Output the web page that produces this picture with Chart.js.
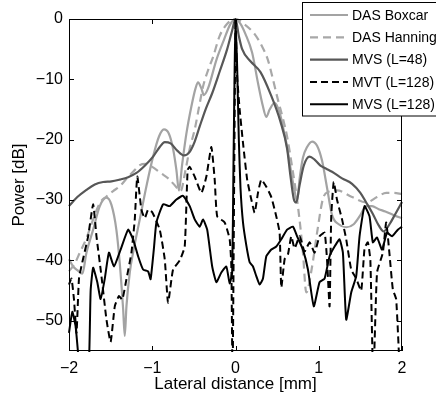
<!DOCTYPE html>
<html><head><meta charset="utf-8">
<script src="https://cdn.jsdelivr.net/npm/chart.js@4.4.0/dist/chart.umd.min.js"></script>
<style>html,body{margin:0;padding:0;background:#fff;}canvas{display:block}</style>
</head><body>
<canvas id="c" width="436" height="398"></canvas>
<script>
// ---------- data ----------
const seriesNames = ['DAS Boxcar', 'DAS Hanning', 'MVS (L=48)', 'MVT (L=128)', 'MVS (L=128)'];
const xTicks = [-2, -1, 0, 1, 2];
const yTicks = [0, -10, -20, -30, -40, -50];
const xTitle = 'Lateral distance [mm]';
const yTitle = 'Power [dB]';

const boxcarX = [-2.0,-1.95,-1.9,-1.84,-1.79,-1.71,-1.63,-1.55,-1.49,-1.43,-1.39,-1.35,-1.33,-1.31,-1.27,-1.23,-1.15,-1.07,-0.99,-0.92,-0.86,-0.80,-0.75,-0.71,-0.68,-0.64,-0.59,-0.53,-0.48,-0.45,-0.41,-0.38,-0.33,-0.23,-0.14,-0.06,0,0.06,0.12,0.20,0.27,0.33,0.37,0.41,0.47,0.53,0.58,0.62,0.67,0.71,0.74,0.77,0.81,0.86,0.92,0.98,1.04,1.10,1.16,1.24,1.33,1.42,1.50,1.57,1.64,1.72,1.80,1.90,2.00];
const boxcarY = [-39.8,-41.0,-41.6,-42.2,-38.7,-34.9,-31.0,-29.6,-30.8,-35.0,-40.5,-48.0,-52.5,-47.6,-42.0,-38.7,-33.2,-27.7,-22.8,-19.5,-18.3,-19.0,-21.5,-25.0,-28.4,-24.0,-19.0,-14.5,-11.5,-10.5,-11.5,-12.6,-11.5,-6.8,-3.5,-0.8,0,-0.8,-2.5,-5.6,-10.6,-14.5,-16.2,-15.0,-13.9,-15.5,-18.5,-21.2,-25.5,-28.5,-30.2,-26.5,-23.0,-21.2,-20.3,-21.0,-23.5,-28.0,-32.5,-34.0,-34.5,-34.0,-32.5,-31.0,-31.0,-31.5,-31.9,-32.5,-33.0];

const hanningX = [-2.0,-1.93,-1.87,-1.79,-1.71,-1.63,-1.55,-1.47,-1.39,-1.30,-1.23,-1.15,-1.08,-1.00,-0.90,-0.80,-0.72,-0.66,-0.60,-0.55,-0.49,-0.43,-0.39,-0.33,-0.27,-0.19,-0.10,0,0.10,0.23,0.31,0.39,0.45,0.51,0.57,0.62,0.68,0.75,0.81,0.85,0.92,0.98,1.05,1.12,1.22,1.40,1.57,1.70,1.81,1.90,2.00];
const hanningY = [-41.8,-40.5,-38.7,-36.3,-33.2,-30.5,-29.4,-28.5,-27.7,-26.3,-25.3,-24.2,-24.0,-24.5,-25.5,-26.5,-27.7,-28.5,-25.0,-21.5,-18.3,-14.0,-11.2,-8.5,-6.3,-2.8,-0.8,0,-0.8,-2.5,-4.3,-6.8,-10.0,-13.4,-16.5,-19.5,-24.5,-31.0,-38.7,-45.3,-41.0,-35.4,-29.8,-28.6,-28.4,-29.5,-30.4,-29.5,-28.8,-28.8,-29.0];

const mvs48X = [-2.0,-1.9,-1.79,-1.69,-1.59,-1.49,-1.39,-1.29,-1.19,-1.09,-0.99,-0.91,-0.85,-0.78,-0.70,-0.62,-0.55,-0.49,-0.43,-0.36,-0.28,-0.19,-0.10,-0.04,0,0.04,0.08,0.18,0.30,0.42,0.54,0.62,0.66,0.70,0.73,0.77,0.82,0.89,0.95,1.02,1.09,1.16,1.28,1.40,1.50,1.57,1.65,1.72,1.78,1.85,1.92,2.00];
const mvs48Y = [-31.0,-29.5,-28.3,-27.4,-27.0,-26.9,-26.6,-26.2,-25.5,-24.3,-22.8,-21.2,-20.4,-20.6,-21.8,-22.6,-22.0,-20.3,-17.8,-15.0,-12.3,-8.7,-5.0,-1.9,0,-2.8,-5.0,-7.0,-8.8,-12.4,-17.0,-21.5,-26.0,-29.8,-30.4,-27.5,-24.3,-22.8,-23.3,-24.3,-24.8,-25.3,-26.4,-27.3,-28.8,-30.4,-32.3,-34.2,-35.2,-34.0,-32.3,-30.3];

const mvtX = [-2.0,-1.97,-1.94,-1.91,-1.88,-1.84,-1.77,-1.71,-1.67,-1.61,-1.55,-1.50,-1.45,-1.40,-1.36,-1.31,-1.25,-1.21,-1.18,-1.13,-1.09,-1.05,-1.00,-0.91,-0.85,-0.81,-0.75,-0.67,-0.61,-0.575,-0.55,-0.49,-0.41,-0.35,-0.29,-0.25,-0.22,-0.13,-0.07,-0.05,-0.035,0,0.02,0.05,0.09,0.14,0.19,0.23,0.27,0.31,0.37,0.43,0.49,0.53,0.55,0.59,0.63,0.67,0.71,0.77,0.83,0.89,0.95,1.01,1.07,1.10,1.13,1.15,1.18,1.22,1.28,1.33,1.39,1.45,1.51,1.55,1.59,1.62,1.655,1.70,1.77,1.81,1.85,1.89,1.93,1.98,2.00];
const mvtY = [-44.0,-43.0,-46.5,-52.0,-43.0,-40.3,-36.0,-30.7,-36.0,-42.6,-49.8,-53.5,-47.6,-45.9,-46.5,-43.1,-38.7,-33.2,-26.1,-31.6,-33.0,-31.6,-32.0,-34.9,-39.8,-47.0,-41.5,-40.0,-37.7,-25.0,-24.5,-26.1,-28.8,-26.1,-21.2,-26.6,-32.7,-33.7,-36.5,-41.0,-60,0,-9.6,-15.0,-20.5,-26.6,-29.9,-32.1,-28.8,-26.6,-27.8,-29.5,-32.7,-35.4,-44.5,-39.8,-39.0,-36.0,-38.0,-36.0,-38.5,-37.0,-38.7,-36.0,-35.4,-40.0,-47.6,-32.7,-27.0,-30.0,-33.2,-36.5,-41.5,-43.0,-45.0,-38.0,-37.0,-40.0,-60,-42.0,-38.7,-33.7,-39.0,-44.8,-46.4,-60,-60];

const mvs128X = [-2.0,-1.96,-1.92,-1.89,-1.86,-1.77,-1.74,-1.71,-1.66,-1.62,-1.57,-1.52,-1.46,-1.38,-1.29,-1.23,-1.17,-1.11,-1.05,-1.02,-0.98,-0.95,-0.87,-0.79,-0.71,-0.63,-0.55,-0.49,-0.43,-0.39,-0.34,-0.28,-0.23,-0.17,-0.11,-0.07,-0.04,-0.025,-0.01,0,0.02,0.04,0.06,0.09,0.13,0.17,0.21,0.25,0.29,0.33,0.37,0.43,0.49,0.55,0.62,0.69,0.74,0.81,0.87,0.94,1.01,1.07,1.13,1.19,1.25,1.29,1.33,1.39,1.45,1.49,1.55,1.61,1.65,1.70,1.76,1.82,1.88,1.95,2.00];
const mvs128Y = [-52.0,-48.5,-51.0,-55.5,-60,-60,-45.0,-41.2,-43.6,-46.4,-43.0,-38.7,-41.0,-38.2,-34.9,-36.5,-39.3,-41.5,-41.8,-43.1,-38.0,-33.7,-30.7,-31.0,-29.9,-29.3,-31.0,-33.2,-34.4,-33.2,-34.9,-41.0,-43.6,-42.0,-41.0,-43.8,-42.0,-25.0,-8.0,0,-8.0,-20.0,-28.0,-33.7,-37.5,-40.3,-41.0,-42.6,-44.0,-43.0,-39.3,-38.2,-37.7,-36.5,-34.9,-34.4,-36.0,-38.2,-41.5,-47.6,-43.6,-43.0,-39.3,-37.7,-36.5,-38.7,-49.8,-45.3,-42.6,-36.0,-31.0,-32.7,-37.0,-36.2,-38.2,-35.4,-36.0,-34.9,-34.4];

// ---------- build ----------
const pts = (xs, ys) => xs.map((x, i) => ({x: x, y: ys[i]}));
const minus = v => String(v).replace('-', '\u2212');
const FONT = '"Liberation Sans", Arial, Helvetica, sans-serif';

const styles = [
  {color: '#a3a3a3', dash: [], width: 2.2, smooth: true},
  {color: '#a8a8a8', dash: [8, 5], width: 2.2, smooth: true},
  {color: '#575757', dash: [], width: 2.2, smooth: true},
  {color: '#000000', dash: [7, 4], width: 2.0, smooth: false},
  {color: '#000000', dash: [], width: 2.0, smooth: false}
];
const seriesData = [pts(boxcarX, boxcarY), pts(hanningX, hanningY), pts(mvs48X, mvs48Y), pts(mvtX, mvtY), pts(mvs128X, mvs128Y)];

const datasets = seriesNames.map((name, i) => ({
  label: name,
  data: seriesData[i],
  borderColor: styles[i].color,
  borderDash: styles[i].dash,
  borderWidth: styles[i].width,
  pointRadius: 0,
  fill: false,
  cubicInterpolationMode: styles[i].smooth ? 'monotone' : 'default',
  tension: styles[i].smooth ? 0.4 : 0.15,
  order: 5 - i,
  clip: 1
}));

const framePlugin = {
  id: 'frame',
  afterDatasetsDraw(chart) {
    const {ctx, chartArea: a, scales: {x, y}} = chart;
    ctx.save();
    ctx.strokeStyle = '#000';
    ctx.lineWidth = 1;
    ctx.setLineDash([]);
    ctx.strokeRect(a.left + 0.5, a.top + 0.5, a.right - a.left - 1, a.bottom - a.top - 1);
    const L = 5;
    ctx.beginPath();
    xTicks.forEach(v => {
      const p = Math.round(x.getPixelForValue(v)) + 0.5;
      ctx.moveTo(p, a.bottom); ctx.lineTo(p, a.bottom - L);
      ctx.moveTo(p, a.top); ctx.lineTo(p, a.top + L);
    });
    yTicks.forEach(v => {
      const p = Math.round(y.getPixelForValue(v)) + 0.5;
      ctx.moveTo(a.left, p); ctx.lineTo(a.left + L, p);
      ctx.moveTo(a.right, p); ctx.lineTo(a.right - L, p);
    });
    ctx.stroke();

    // legend box
    const bx = 302.5, by = 2.5, bw = 140, bh = 113.5;
    ctx.fillStyle = '#fff';
    ctx.fillRect(bx, by, bw, bh);
    ctx.strokeRect(bx, by, bw, bh);
    ctx.font = '14px ' + FONT;
    ctx.textBaseline = 'middle';
    ctx.textAlign = 'left';
    chart.data.datasets.forEach((ds, i) => {
      const ly = 15 + i * 22.3;
      ctx.beginPath();
      ctx.strokeStyle = ds.borderColor;
      ctx.lineWidth = ds.borderWidth;
      ctx.setLineDash(ds.borderDash);
      ctx.moveTo(310, ly); ctx.lineTo(348, ly);
      ctx.stroke();
      ctx.setLineDash([]);
      ctx.fillStyle = '#000';
      ctx.fillText(ds.label, 352, ly + 1);
    });
    ctx.restore();
  }
};

new Chart(document.getElementById('c'), {
  type: 'line',
  data: {datasets: datasets},
  options: {
    responsive: false,
    devicePixelRatio: 1,
    animation: false,
    events: [],
    layout: {padding: {left: 0, right: 34, top: 19, bottom: 0}},
    plugins: {legend: {display: false}, tooltip: {enabled: false}},
    scales: {
      x: {
        type: 'linear', min: -2, max: 2,
        afterBuildTicks: s => { s.ticks = xTicks.map(v => ({value: v})); },
        afterFit: s => { s.height = 47; },
        grid: {display: false, drawTicks: false},
        border: {display: false},
        ticks: {color: '#000', padding: 8, maxRotation: 0, font: {family: FONT, size: 16}, callback: v => minus(v)},
        title: {display: true, text: xTitle, color: '#000', font: {family: FONT, size: 17}, padding: {top: 0, bottom: 3}}
      },
      y: {
        type: 'linear', min: -55, max: 0,
        afterBuildTicks: s => { s.ticks = yTicks.map(v => ({value: v})); },
        afterFit: s => { s.width = 69; },
        grid: {display: false, drawTicks: false},
        border: {display: false},
        ticks: {color: '#000', padding: 6, font: {family: FONT, size: 16}, callback: v => minus(v)},
        title: {display: true, text: yTitle, color: '#000', font: {family: FONT, size: 17}, padding: {top: 9, bottom: 0}}
      }
    }
  },
  plugins: [framePlugin]
});
</script>
</body></html>
